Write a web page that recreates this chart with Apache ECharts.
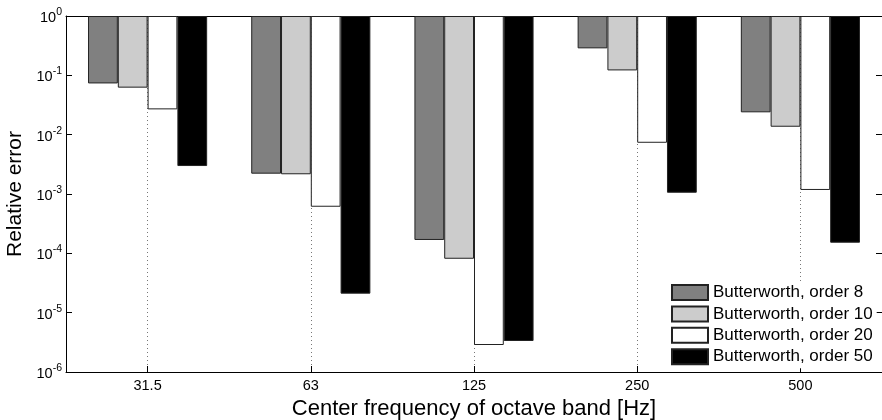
<!DOCTYPE html>
<html>
<head>
<meta charset="utf-8">
<script src="https://cdn.jsdelivr.net/npm/echarts@6/dist/echarts.min.js"></script>
<style>html,body{margin:0;padding:0;background:#fff;}#c{width:882px;height:420px;}</style>
</head>
<body>
<div id="c"></div>
<script>
const categories = ['31.5', '63', '125', '250', '500'];
const seriesNames = ['Butterworth, order 8', 'Butterworth, order 10', 'Butterworth, order 20', 'Butterworth, order 50'];
const order8  = [0.073, 0.0022, 1.68e-4, 0.285, 0.0238];
const order10 = [0.062, 0.00215, 8.1e-5, 0.121, 0.0136];
const order20 = [0.0267, 0.00061, 2.85e-6, 0.0073, 0.00117];
const order50 = [0.00296, 2.09e-5, 3.33e-6, 0.00105, 1.51e-4];
const yMin = 1e-6, yMax = 1;

const FONT = 'Liberation Sans, Arial, Helvetica, sans-serif';
const fills = ['#808080', '#cccccc', '#ffffff', '#000000'];
const values = [order8, order10, order20, order50];

const chart = echarts.init(document.getElementById('c'), null, {renderer: 'canvas'});
const yLabel = {
  show: true,
  margin: 4,
  fontFamily: FONT,
  formatter: v => '{b|10}{s|' + Math.round(Math.log10(v)) + '}',
  rich: {
    b: {fontSize: 14.5, fontFamily: FONT, color: '#000', verticalAlign: 'bottom'},
    s: {fontSize: 10.5, fontFamily: FONT, color: '#000', verticalAlign: 'top', padding: [0, 0, 8, 0]}
  }
};
chart.setOption({
  animation: false,
  backgroundColor: '#fff',
  grid: {left: 66, top: 16, width: 816, height: 356, containLabel: false, outerBoundsMode: 'none'},
  legend: {
    orient: 'vertical',
    left: 667, top: 281,
    padding: [3, 4, 3, 4],
    backgroundColor: '#fff',
    itemWidth: 36, itemHeight: 15, itemGap: 4.4,
    icon: 'rect',
    textStyle: {fontSize: 17, fontFamily: FONT, color: '#000'},
    data: seriesNames
  },
  xAxis: [{
    type: 'category',
    data: categories,
    boundaryGap: true,
    position: 'bottom',
    axisLine: {lineStyle: {color: '#000', width: 1}},
    axisTick: {show: true, inside: true, alignWithLabel: true, length: 6, lineStyle: {color: '#000'}},
    axisLabel: {fontSize: 14.5, fontFamily: FONT, color: '#000', margin: 6},
    splitLine: {show: true, alignWithLabel: true, lineStyle: {color: '#777', type: [1, 3], width: 1}},
    name: 'Center frequency of octave band [Hz]',
    nameLocation: 'middle',
    nameGap: 23,
    nameTextStyle: {fontSize: 22, fontFamily: FONT, color: '#000'}
  }, {
    type: 'category',
    data: categories,
    position: 'top',
    axisLine: {lineStyle: {color: '#000', width: 1}},
    axisTick: {show: false},
    axisLabel: {show: false},
    splitLine: {show: false}
  }],
  yAxis: [{
    type: 'log',
    logBase: 10,
    min: yMin, max: yMax,
    interval: 1,
    position: 'left',
    axisLine: {show: true, lineStyle: {color: '#000', width: 1}},
    axisTick: {show: true, inside: true, length: 6, lineStyle: {color: '#000'}},
    minorTick: {show: false},
    splitLine: {show: false},
    axisLabel: yLabel,
    name: 'Relative error',
    nameLocation: 'middle',
    nameGap: 38,
    nameRotate: 90,
    nameTextStyle: {fontSize: 21, fontFamily: FONT, color: '#000'}
  }, {
    type: 'log',
    logBase: 10,
    min: yMin, max: yMax,
    interval: 1,
    position: 'right',
    axisLine: {show: true, lineStyle: {color: '#000', width: 1}},
    axisTick: {show: true, inside: true, length: 6, lineStyle: {color: '#000'}},
    axisLabel: {show: false},
    splitLine: {show: false}
  }],
  series: values.map((vals, i) => ({
    name: seriesNames[i],
    type: 'bar',
    xAxisIndex: 0,
    yAxisIndex: 0,
    data: vals,
    barGap: '0%',
    barCategoryGap: '27%',
    z: 3,
    itemStyle: {color: fills[i], borderColor: '#222', borderWidth: 1}
  }))
});
</script>
</body>
</html>
